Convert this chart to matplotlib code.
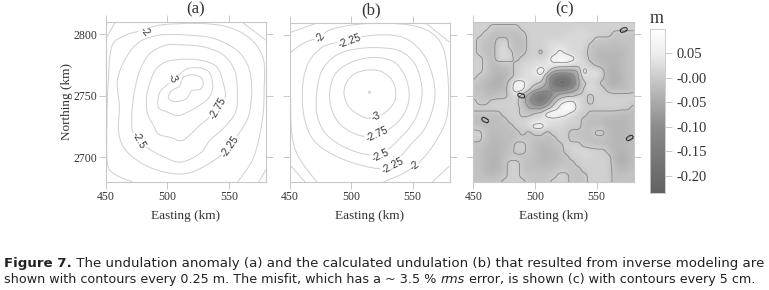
import numpy as np
from matplotlib import pyplot as plt
from matplotlib.path import Path
from matplotlib.patches import PathPatch
from matplotlib.colors import LinearSegmentedColormap, Normalize

W, H = 769, 290
serif = 'Liberation Serif'
grey = '#c8c8c8'

# contours of panel (a): easting, northing in km
a_325 = [(500.8,2749.2),(502.2,2746.5),(507.6,2745.1),(515.7,2747.8),(519.7,2754.1),(526.5,2755.1),(529.2,2760),(526.5,2765.4),(519.7,2766.8),(513,2764.9),(509.7,2757.8),(503.5,2754.1),(500.8,2749.2)]
a_300 = [(503.5,2762.7),(499.5,2758.6),(493.5,2751.9),(492.7,2740.5),(499.5,2737),(508.1,2733.8),(517,2737),(525.1,2741.6),(533.2,2747.8),(536.8,2756.8),(534.6,2768.1),(527.8,2772.2),(517,2772.2),(508.9,2766.8),(503.5,2762.7)]
a_275 = [(534.6,2733),(526.5,2726.2),(519.7,2719.5),(511.6,2713.5),(502.2,2716.2),(492.7,2718.9),(488.6,2726.2),(483.8,2735.7),(483.2,2749.2),(486.5,2762.7),(491.4,2772.2),(499.5,2777.6),(511.6,2779.5),(526.5,2778.9),(540,2773.5),(545.4,2760),(546.8,2749.2),(541.4,2741.1),(534.6,2733)]
a_250 = [(472.4,2719.5),(471.1,2733),(473,2751.9),(477.8,2770.8),(485.9,2784.3),(499.5,2791.1),(513,2791.1),(529.2,2789.7),(545.4,2783),(554.9,2769.5),(556.8,2749.2),(554.9,2735.7),(545.4,2723.5),(534.6,2714),(526.5,2703.2),(510.3,2696.1),(494.1,2701.9),(481.9,2709.2),(472.4,2719.5)]
a_225 = [(545.4,2703.2),(531.9,2693.8),(521.1,2688.4),(508.9,2686.5),(491.4,2689.7),(475.1,2697.8),(464.3,2708.6),(460.3,2722.2),(461.1,2741.1),(459.5,2762.7),(467,2781.6),(477.8,2793.8),(494.1,2799.2),(515.7,2799.2),(537.3,2796.5),(556.2,2787),(565.7,2773.5),(568.4,2754.6),(565.7,2733),(556.2,2716.8),(545.4,2703.2)]
a_200 = [(471.6,2680),(458,2686),(451.4,2695),(451,2730),(452,2760),(455,2790),(466,2799),(477.8,2802.5),(494.1,2807.3),(523.8,2808.6),(548.1,2806),(567,2796.5),(577.8,2780),(578.5,2755),(577,2730),(570,2700),(557,2680)]
a_175 = [(450,2796),(458,2810)]
a_175b = [(560,2810),(580,2795)]
a_175c = [(574,2680),(580,2690)]
a_lines = [a_325, a_300, a_275, a_250, a_225, a_200, a_175, a_175b, a_175c]
a_labels = ['-2', '-3', '-2.75', '-2.5', '-2.25']
a_label_e = [482, 504, 541, 477, 551]
a_label_n = [2802, 2764, 2740, 2714, 2709]
a_label_rot = [-50, -60, 60, -60, 55]

# contours of panel (b)
b_325 = [(513.9,2753.5),(515.2,2753.8),(515.6,2752.8),(514.4,2752.3),(513.9,2753.5)]
b_300 = [(513.9,2732.1),(505.8,2734.9),(497.6,2741.7),(494.1,2751.3),(495.4,2759.5),(501.7,2767.7),(512.6,2771.2),(523.4,2770.4),(531.6,2764.9),(535.7,2756.7),(535.7,2747.2),(531.6,2740.3),(524.8,2734.9),(513.9,2732.1)]
b_275 = [(513.1,2717.1),(500.3,2720.4),(489.4,2728.6),(483.2,2741.7),(482.6,2755.4),(486.7,2767.7),(496.2,2775.8),(509.8,2780.5),(523.4,2781.3),(535.7,2777.2),(543.8,2766.3),(547.1,2752.6),(545.2,2740.3),(538.4,2729.4),(527.5,2721.2),(513.1,2717.1)]
b_250 = [(515.3,2702.1),(496.2,2707.5),(479.9,2718.5),(472.3,2733.5),(471.8,2752.6),(475.8,2770.4),(486.7,2782.7),(501.7,2788.1),(520.7,2789.5),(539.7,2786.8),(552,2775.8),(557.4,2758.1),(556.1,2741.7),(549.3,2726.7),(537,2713),(528.9,2706.2),(515.3,2702.1)]
b_225 = [(527.5,2691.1),(507.1,2693.9),(485.4,2702.1),(469,2714.4),(461.4,2733.5),(460.3,2758.1),(465,2777.2),(475.8,2789.5),(488.1,2793.6),(518,2799.6),(542.5,2797.7),(558.8,2784),(566.9,2763.6),(567.5,2744.4),(560.1,2723.9),(549.3,2711.6),(539.7,2700.7),(527.5,2691.1)]
b_200 = [(450,2785.4),(460.9,2793.1),(475,2798.5),(482.6,2804),(501.7,2808.1),(526.1,2809.5),(550.6,2807.3),(566.9,2800.4),(575.1,2788.1),(578.4,2769),(579.2,2747.2),(576.5,2728),(564.2,2706.2),(552,2693.3),(539.7,2685.7),(526.1,2680)]
b_200b = [(450.5,2747.2),(451.4,2719.8),(456.8,2700.7),(471.8,2680)]
b_175 = [(450,2694),(462.2,2680)]
b_175b = [(450,2801.8),(473.1,2810)]
b_175c = [(560,2810),(580,2794)]
b_175d = [(566,2680),(580,2693)]
b_lines = [b_325, b_300, b_275, b_250, b_225, b_200, b_200b, b_175, b_175b, b_175c, b_175d]
b_labels = ['-2', '-2.25', '-3', '-2.75', '-2.5', '-2.25', '-2']
b_label_e = [475, 499, 520, 521, 524, 534, 552]
b_label_n = [2798, 2795, 2733, 2719, 2702, 2693, 2693]
b_label_rot = [50, 20, 20, 25, 25, 28, 35]

# misfit of panel (c) in cm, north to south every 5 km, west to east every 5 km
c_east = np.arange(450, 581, 5)
c_north = np.arange(2810, 2679, -5)
c_cm = np.array([
    [ 1, 1, 1, 1, 1, 1, 1, 1, 1, 1, 1, 1, 1, 1, 1, 1, 1, 1, 1, 1, 1, 1, 1, 1, 1, 1, 1],
    [ 1, 1, 1,-1,-1,-1,-1,-1, 1, 1, 1, 1, 1, 1, 1, 1, 1, 2, 2, 1, 1, 1, 1, 1, 1, 1, 1],
    [ 1, 1,-1,-2,-2,-2,-2,-2,-1, 1, 1, 1, 1, 1, 1, 2, 2, 2, 2, 2, 1, 1, 1,-1,-1,-1,-1],
    [ 1,-1,-2,-2, 1, 2,-1,-2,-2, 1, 1, 1, 2, 2, 2, 2, 2, 2, 2, 1,-1,-1,-1,-2,-1,-1,-1],
    [ 1,-1,-2,-2, 2, 2,-1,-2,-2, 1, 1, 1, 2, 3, 4, 3, 2, 2, 2,-1,-2,-2,-2,-2,-2,-2,-1],
    [ 1,-1,-2,-2, 2, 2, 1,-2,-1, 1, 1,-1, 2, 3, 6, 4, 2, 2, 1,-1,-2,-3,-3,-3,-3,-2,-1],
    [ 1, 1,-1,-2, 2, 2, 1,-1, 1, 1, 2, 2, 3, 7, 9, 9, 7, 3, 2,-1,-2,-3,-3,-3,-3,-2,-1],
    [ 1, 1,-1,-3,-2,-2,-1, 1, 2, 2, 3, 3, 4, 4, 3, 3, 2, 2, 2, 1,-1,-2,-3,-3,-3,-2,-1],
    [ 1, 1,-1,-3,-3,-2,-1, 1, 2, 3, 4, 8, 3,-4,-6,-6,-6,-5, 8, 2, 4, 1,-3,-4,-3,-2,-1],
    [ 1,-1,-2,-3,-4,-3,-1, 1, 2, 3, 3, 4,-6,-15,-18,-18,-13,-6, 3, 2, 2, 1,-3,-4,-4,-2,-1],
    [-1,-2,-3,-4,-4,-2, 2, 8, 7, 2, 1,-1,-6,-16,-22,-22,-16,-6,-1, 2, 1,-1,-3,-4,-3,-2,-1],
    [-1,-2,-3,-3,-3,-2, 3, 8, 6, 1,-3,-6,-8,-10,-12,-11,-8,-5, 1, 3, 2, 1,-1,-2,-2,-2,-1],
    [-1,-1,-2,-2,-1,-1, 1, 2,-2,-7,-14,-17,-15,-8,-3,-1,-1, 1, 1,-1, 1, 1, 1, 1, 1, 1, 1],
    [ 1,-1,-1, 1, 1, 1, 1, 1,-3,-8,-14,-16,-10,-2, 3, 5, 6, 3, 1,-1, 1, 1, 1, 1, 1, 1, 1],
    [ 1, 1, 1, 1, 1, 1, 1, 1,-1,-5,-6,-6,-2, 2, 6,10,10, 3, 1, 1, 1, 1, 1, 1, 1, 1,-1],
    [-1,-1,-1,-1,-1, 1, 1, 1,-1,-1, 1, 2, 7, 9, 7, 6, 3, 1, 1,-1,-1,-1,-1,-1,-2,-2,-2],
    [-2,-2,-2,-2,-2,-1, 1, 1, 1, 2, 2, 3, 3, 3, 3, 2, 1, 1,-1,-2,-2,-2,-3,-3,-3,-3,-2],
    [-1,-2,-2,-2,-2,-2,-1, 1, 1, 3, 7, 7, 3, 2, 2, 1, 1, 1,-1,-2,-2,-2,-3,-3,-3,-3,-2],
    [ 1, 1,-2,-2,-2,-2,-2,-1, 1,-1, 1, 1,-1, 1, 1, 1,-1,-1,-1,-2, 1, 1,-2,-3,-3,-3,-2],
    [ 1, 1,-2,-3,-2,-2,-2,-1,-1,-1,-1,-1,-2,-1, 1, 1,-1,-1,-1,-2,-1,-1,-2,-3,-3,-3,-2],
    [-1,-1,-2,-3,-3,-2,-2, 1, 1,-1,-2,-2,-2,-2,-1, 1, 1, 1,-1,-1,-2,-2,-2,-3,-3,-3,-2],
    [-1,-2,-3,-3,-3,-2,-1, 1, 1,-1,-2,-3,-3,-2,-2, 1, 1, 2, 2, 1, 1, 1,-1,-3,-3,-3,-2],
    [-1,-2,-3,-3,-3,-2,-1,-1,-1,-1,-2,-3,-3,-3,-2,-1, 1, 1, 2, 2, 1, 1, 1,-2,-4,-4,-2],
    [-1,-2,-3,-4,-3,-1, 1, 1,-1,-2,-2,-3,-3,-2,-2,-1,-1, 1, 1, 1, 1, 1, 1,-2,-4,-4,-2],
    [-1,-2,-3,-4,-3,-1, 1, 1,-1,-2,-2,-2,-2,-2,-1,-1,-1,-1, 1, 1, 1, 1, 1,-1,-3,-3,-2],
    [-1,-2,-3,-3,-2,-1, 1, 1,-1,-1,-1,-1,-1,-1, 1, 1,-1,-1,-1, 1, 1, 1, 1,-1,-2,-2,-1],
    [-1,-1,-1,-1,-1, 1, 1, 1, 1,-1,-1,-1,-1, 1, 1, 1,-1,-1,-1, 1, 1, 1, 1,-1,-1,-1,-1],
])
c_levels = [-20, -15, -10, -5, 0, 5]
c_label_e = [570, 490, 461, 575]
c_label_n = [2803, 2750, 2730, 2716]
c_label_rot = [-70, 70, 60, -60]

cbar_ticks = [0.05, 0.0, -0.05, -0.10, -0.15, -0.20]
cbar_labels = ['0.05', '-0.00', '-0.05', '-0.10', '-0.15', '-0.20']
x_ticks = [450, 500, 550]
y_ticks = [2700, 2750, 2800]

caption_1 = ' The undulation anomaly (a) and the calculated undulation (b) that resulted from inverse modeling are'
caption_2a = 'shown with contours every 0.25 m. The misfit, which has a ~ 3.5 % '
caption_2b = ' error, is shown (c) with contours every 5 cm.'

fig = plt.figure(figsize=(W/100, H/100), dpi=100)

# grey ramp
vmin, vmax = -0.235, 0.10
norm = Normalize(vmin, vmax)
cmap = LinearSegmentedColormap.from_list('bar', [
    (norm(-0.235), '#626262'), (norm(-0.10), '#8c8c8c'), (norm(-0.05), '#aaaaaa'),
    (norm(0.0), '#cacaca'), (norm(0.05), '#eeeeee'), (norm(0.10), '#ffffff')])


def px_axes(x0, y0, x1, y1):
    return fig.add_axes([x0/W, 1-y1/H, (x1-x0)/W, (y1-y0)/H])


def frame(ax, title, title_x, ylabel=False):
    ax.set_xlim(450, 580)
    ax.set_ylim(2680, 2810)
    ax.set_xticks(x_ticks)
    ax.set_yticks(y_ticks)
    ax.tick_params(top=True, right=True, length=5, width=0.7, color=grey,
                   labelsize=8.5, labelcolor='#333333')
    ax.tick_params(axis='x', pad=1.5)
    ax.tick_params(axis='y', pad=1)
    for s in ax.spines.values():
        s.set_color(grey)
        s.set_linewidth(0.8)
    for t in ax.get_xticklabels() + ax.get_yticklabels():
        t.set_family(serif)
    ax.set_title(title, x=title_x, family=serif, fontsize=12, color='#333333', pad=6)
    ax.set_xlabel('Easting (km)', family=serif, fontsize=9.5, color='#333333', labelpad=5)
    if ylabel:
        ax.set_ylabel('Northing (km)', family=serif, fontsize=9.5, color='#333333', labelpad=0)
    else:
        ax.set_yticklabels([])


def draw_line(ax, pts):
    p = np.array(pts, float)
    if (p[0] == p[-1]).all():
        q = np.vstack([p[-2], p, p[1]])
    else:
        q = np.vstack([p[0], p, p[-1]])
    verts = [p[0]]
    codes = [Path.MOVETO]
    for i in range(1, len(q)-2):
        verts += [q[i]+(q[i+1]-q[i-1])/6, q[i+1]-(q[i+2]-q[i])/6, q[i+1]]
        codes += [Path.CURVE4]*3
    ax.add_patch(PathPatch(Path(verts, codes), fc='none', ec='#cfcfcf', lw=0.7))


def contour_labels(ax, labels, east, north, rot):
    for s, e, n, r in zip(labels, east, north, rot):
        ax.text(e, n, s, family='Liberation Sans', fontsize=7.5, color='#333333', rotation=r,
                ha='center', va='center', zorder=5, bbox=dict(fc='white', ec='none', pad=0.2))


def rounded(grid, step=4, win=3):
    # finer copy of the grid for drawing round contours only
    n = grid.shape[0]
    old = np.arange(n)
    new = np.linspace(0, n-1, (n-1)*step+1)
    kern = np.ones(win)/win
    out = np.array([np.interp(new, old, row) for row in grid])
    out = np.array([np.interp(new, old, col) for col in out.T]).T
    pad = win//2
    out = np.pad(out, pad, mode='edge')
    out = np.array([np.convolve(r, kern, 'same') for r in out])
    out = np.array([np.convolve(c, kern, 'same') for c in out.T]).T
    return out[pad:-pad, pad:-pad]


ax_a = px_axes(105.7, 21.7, 266, 182)
for line in a_lines:
    draw_line(ax_a, line)
frame(ax_a, '(a)', 0.563, ylabel=True)
contour_labels(ax_a, a_labels, a_label_e, a_label_n, a_label_rot)

ax_b = px_axes(290, 22.5, 449.5, 182)
for line in b_lines:
    draw_line(ax_b, line)
frame(ax_b, '(b)', 0.508)
contour_labels(ax_b, b_labels, b_label_e, b_label_n, b_label_rot)

ax_c = px_axes(473.3, 21.5, 633.5, 182)
ax_c.imshow(c_cm/100, extent=[450, 580, 2680, 2810], cmap=cmap, norm=norm,
            interpolation='bicubic', aspect='auto')
fine = rounded(c_cm)
ax_c.contour(np.linspace(450, 580, fine.shape[1]), np.linspace(2810, 2680, fine.shape[0]), fine,
             levels=c_levels, colors='#808080', linewidths=0.55, linestyles='solid')
frame(ax_c, '(c)', 0.567)
for e, n, r in zip(c_label_e, c_label_n, c_label_rot):
    ax_c.text(e, n, '0', family='Liberation Sans', fontsize=7.5, color='black', rotation=r, ha='center', va='center')

ax_cb = px_axes(650, 29, 665, 193)
cb_vals = np.linspace(vmin, vmax, 256)[:, None]
ax_cb.imshow(cb_vals, origin='lower', extent=[0, 1, vmin, vmax], cmap=cmap, norm=norm, aspect='auto')
ax_cb.set_xticks([])
ax_cb.yaxis.tick_right()
ax_cb.set_yticks(cbar_ticks)
ax_cb.set_yticklabels(cbar_labels, family=serif, fontsize=10.5, color='#333333')
ax_cb.tick_params(axis='y', length=5, width=0.7, color=grey, pad=3)
for s in ax_cb.spines.values():
    s.set_color(grey)
    s.set_linewidth(0.6)
fig.text(657/W, 1-23/H, 'm', family=serif, fontsize=13, color='#333333', ha='center', va='baseline')


def runs(x, y, size, parts):
    # lay the caption pieces one after the other, in pixels
    r = fig.canvas.get_renderer()
    for s, kw in parts:
        t = fig.text(x/W, 1-y/H, s, fontsize=size, color='#222222', family='DejaVu Sans', va='baseline', **kw)
        x = t.get_window_extent(r).x1


runs(4, 267.5, 9.62, [('Figure 7.', {'fontweight': 'bold'}), (caption_1, {})])
runs(4, 283, 9.22, [(caption_2a, {}), ('rms', {'style': 'italic'}), (caption_2b, {})])

fig.savefig('out.png', dpi=100)
